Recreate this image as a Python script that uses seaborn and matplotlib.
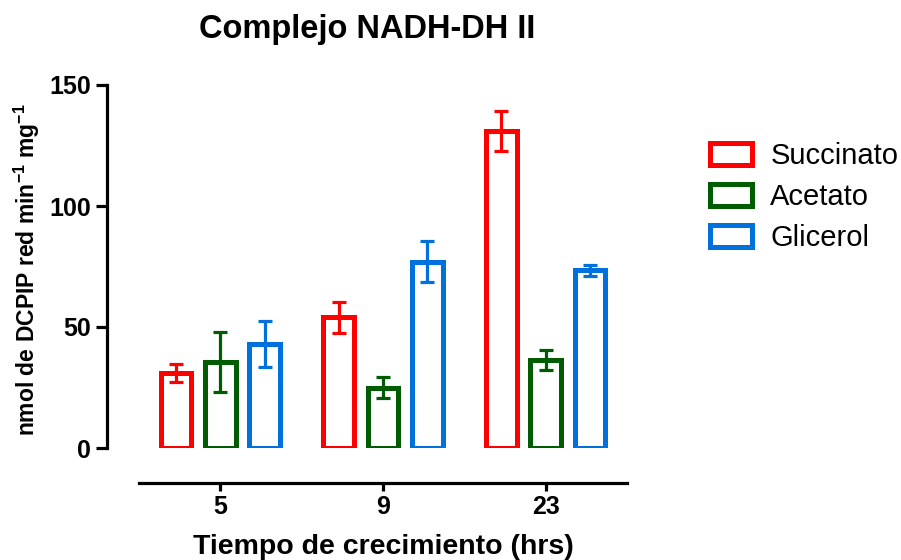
import matplotlib
matplotlib.use("Agg")
import matplotlib.pyplot as plt
import matplotlib.patches as mpatches
import seaborn as sns
import pandas as pd

# Growth times (hours) and carbon sources
tiempos = ["5", "9", "23"]
fuentes = ["Succinato", "Acetato", "Glicerol"]

# Mean activity per carbon source, one value per growth time
succinato = [31.0, 54.0, 131.0]
acetato = [35.5, 25.0, 36.3]
glicerol = [43.0, 77.0, 73.5]

# Error bar half-widths
succinato_err = [3.8, 6.5, 8.3]
acetato_err = [12.5, 4.3, 4.0]
glicerol_err = [9.5, 8.5, 2.3]

colores = ["#FF0000", "#005C00", "#0070DD"]

medias = [succinato, acetato, glicerol]
errores = [succinato_err, acetato_err, glicerol_err]

df = pd.DataFrame({
    "tiempo": [t for f in fuentes for t in tiempos],
    "fuente": [f for f in fuentes for _ in tiempos],
    "valor": [v for serie in medias for v in serie],
    "err": [e for serie in errores for e in serie],
})

sns.set_theme(style="white")
plt.rcParams["font.family"] = ["Liberation Sans", "DejaVu Sans"]
plt.rcParams["mathtext.fontset"] = "custom"
plt.rcParams["mathtext.rm"] = "Liberation Sans"
plt.rcParams["mathtext.bf"] = "Liberation Sans:bold"
for key in ("text.color", "axes.labelcolor", "xtick.color", "ytick.color"):
    plt.rcParams[key] = "black"

fig = plt.figure(figsize=(9.01, 5.60), dpi=100)
ax = fig.add_axes([139 / 901, 112 / 560, 488 / 901, 363 / 560])

sns.barplot(
    data=df, x="tiempo", y="valor", hue="fuente",
    order=tiempos, hue_order=fuentes, palette=colores,
    fill=False, width=0.82, gap=0.31, errorbar=None,
    linewidth=3.6, legend=False, ax=ax,
)

for p in ax.patches:
    p.set_joinstyle("miter")

# Error bars placed on each bar from the same table
for i, fuente in enumerate(fuentes):
    sub = df[df["fuente"] == fuente]
    bars = [p for p in ax.patches if p.get_edgecolor()[:3] == matplotlib.colors.to_rgb(colores[i])]
    xs = [b.get_x() + b.get_width() / 2 for b in bars]
    ax.errorbar(xs, sub["valor"], yerr=sub["err"], fmt="none",
                ecolor=colores[i], elinewidth=2.3, capsize=5.2, capthick=2.3, zorder=3)

ax.set_xlim(-0.5, 2.5)
ax.set_ylim(0, 150)
ax.set_yticks([0, 50, 100, 150])

sns.despine(ax=ax)
ax.spines["left"].set_position(("outward", 23))
ax.spines["bottom"].set_position(("outward", 25))
for s in ("left", "bottom"):
    ax.spines[s].set_linewidth(2.3)
    ax.spines[s].set_color("black")

ax.tick_params(axis="y", left=True, length=8, width=2.3, pad=3.5, labelsize=18, colors="black")
ax.tick_params(axis="x", bottom=True, length=6, width=2.3, pad=3, labelsize=18, colors="black")
for lab in ax.get_xticklabels() + ax.get_yticklabels():
    lab.set_fontweight("bold")

ax.set_xlabel("Tiempo de crecimiento (hrs)", fontsize=20.5, fontweight="bold", va="top")
ax.xaxis.set_label_coords(383 / 901, 1 - 534 / 560, transform=fig.transFigure)

ax.set_ylabel(r"nmol de DCPIP red min$^{\mathbf{-1}}$ mg$^{\mathbf{-1}}$",
              fontsize=16.5, fontweight="bold", va="center", ha="center")
ax.yaxis.set_label_coords(27 / 901, 1 - 270 / 560, transform=fig.transFigure)

fig.text(367 / 901, 1 - 38 / 560, "Complejo NADH-DH II", ha="center", va="baseline",
         fontsize=23.5, fontweight="bold")

handles = [mpatches.Patch(facecolor="none", edgecolor=c, linewidth=3.6, joinstyle="miter")
           for c in colores]
fig.legend(handles, fuentes, loc="upper left", bbox_to_anchor=(710 / 901, 1 - 142 / 560),
           frameon=False, fontsize=21, handlelength=1.45, handleheight=0.78,
           handletextpad=0.62, labelspacing=0.45, borderaxespad=0, borderpad=0)

fig.savefig("out.png", dpi=100)
